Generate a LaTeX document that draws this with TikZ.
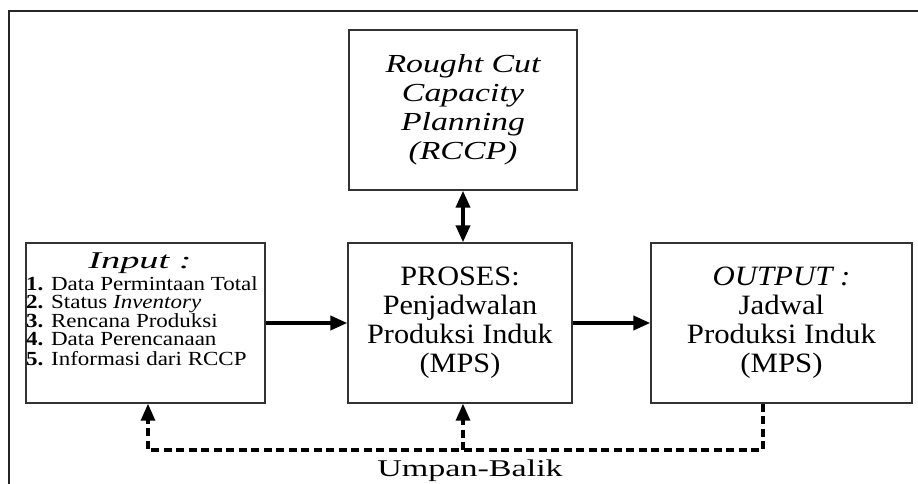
\documentclass[tikz,border=0pt]{standalone}
\usepackage{fontspec}
\setmainfont{Liberation Serif}
\usepackage{graphicx}
\usetikzlibrary{arrows.meta}
\newcommand{\widetxt}[2][1.4]{\scalebox{#1}[1]{#2}}
\begin{document}
\begin{tikzpicture}[x=1pt,y=-1pt,
  box/.style={draw=black!80, line width=1.4pt, inner sep=0pt},
  tip/.tip={Triangle[length=17pt,width=14pt]},
  flow/.style={line width=3.8pt, -tip},
  dflow/.style={line width=3.8pt, tip-tip},
  fb/.style={line width=3.2pt, dash pattern=on 8pt off 4.5pt},
  fbarrow/.style={fb, -tip}]
\useasboundingbox (0,0) rectangle (918,484);
\draw[line width=1.6pt, black!85] (918,11) -- (9,11) -- (9,484);
% boxes
\node[box, minimum width=228pt, minimum height=160pt] (rccp) at (463,110)
  {\widetxt[1.3]{\fontsize{26}{29}\selectfont\itshape\begin{tabular}{@{}c@{}}Rought Cut\\Capacity\\Planning\\(RCCP)\end{tabular}}};
\node[box, minimum width=239pt, minimum height=160pt] (input) at (145.5,323) {};
\node[box, minimum width=224pt, minimum height=160pt] (proses) at (460,323)
  {\widetxt[1.08]{\fontsize{28}{29}\selectfont\begin{tabular}{@{}c@{}}PROSES:\\Penjadwalan\\Produksi Induk\\(MPS)\end{tabular}}};
\node[box, minimum width=261pt, minimum height=160pt] (output) at (781.5,323)
  {\widetxt[1.1]{\fontsize{28}{29}\selectfont\begin{tabular}{@{}c@{}}\textit{OUTPUT :}\\Jadwal\\Produksi Induk\\(MPS)\end{tabular}}};
% input text
\node[anchor=base, inner sep=0pt] (intitle) at (140,268)
  {\widetxt[1.6]{\fontsize{24}{26}\selectfont\itshape Input :}};
\node[anchor=north west, inner sep=0pt] (initems) at (26,276)
  {\widetxt[1.15]{\fontsize{20}{17.3}\selectfont\begin{tabular}{@{}l@{}}\textbf{1.} Data Permintaan Total\\\textbf{2.} Status \textit{Inventory}\\\textbf{3.} Rencana Produksi\\\textbf{4.} Data Perencanaan\\\textbf{5.} Informasi dari RCCP\end{tabular}}};
% arrows
\draw[flow] (input.east) -- (proses.west);
\draw[flow] (proses.east) -- (output.west);
\draw[dflow] (rccp.south) -- (rccp.south |- proses.north);
% feedback
\coordinate (fR) at (763,450);
\coordinate (fL) at (148,450);
\coordinate (fM) at (463,450);
\draw[fbarrow] (output.south -| fR) -- (fR) -- (fL) -- (input.south -| fL);
\draw[fbarrow] (fM) -- (proses.south -| fM);
\node[anchor=base, inner sep=0pt] (umpan) at (470,476)
  {\widetxt[1.42]{\fontsize{24}{25}\selectfont Umpan-Balik}};
\end{tikzpicture}
\end{document}
